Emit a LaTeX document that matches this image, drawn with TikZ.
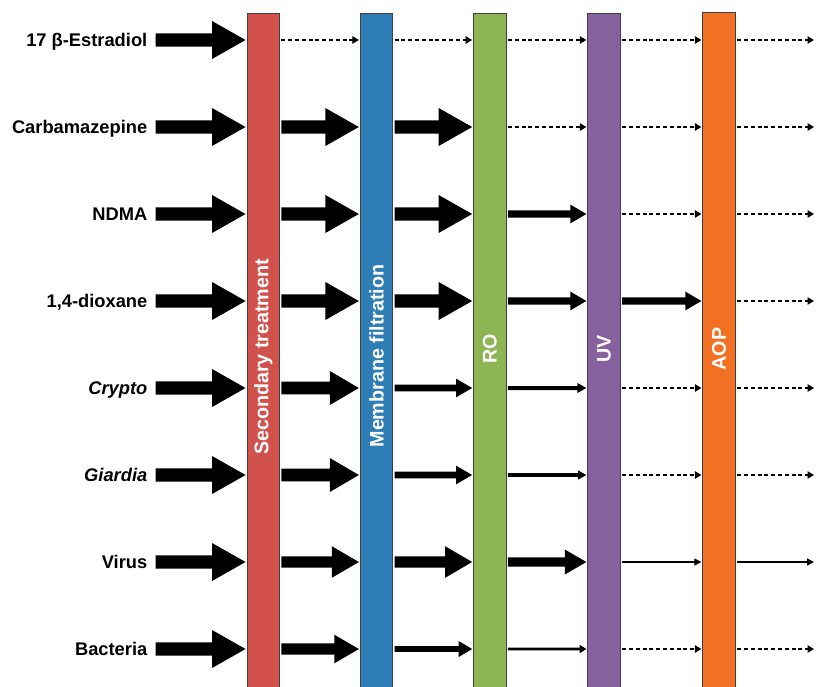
\documentclass[tikz,border=0pt]{standalone}
\usepackage{fontspec}
\setmainfont{Liberation Sans}
\usetikzlibrary{arrows.meta}
\definecolor{cSec}{RGB}{209,81,76}
\definecolor{cMem}{RGB}{46,125,182}
\definecolor{cRO}{RGB}{141,181,83}
\definecolor{cUV}{RGB}{135,97,157}
\definecolor{cAOP}{RGB}{242,112,34}
% #1 start anchor, #2 target node, #3 row coordinate, #4 shaft half, #5 head half, #6 head length
\newcommand\fatarr[6]{%
  \path (#1 |- #3) coordinate (fa-s) (#2.west |- #3) coordinate (fa-e);
  \fill[black] ([xshift=1.5pt,yshift=#4pt]fa-s)
    -- ([xshift={-(#6+1)*1pt},yshift=#4pt]fa-e)
    -- ([xshift={-(#6+1)*1pt},yshift=#5pt]fa-e)
    -- ([xshift=-1pt]fa-e)
    -- ([xshift={-(#6+1)*1pt},yshift=-#5pt]fa-e)
    -- ([xshift={-(#6+1)*1pt},yshift=-#4pt]fa-e)
    -- ([xshift=1.5pt,yshift=-#4pt]fa-s) -- cycle;}
\newcommand\bigarr[3]{\fatarr{#1}{#2}{#3}{6.7}{19}{33.5}}
\newcommand\medarr[3]{\fatarr{#1}{#2}{#3}{3.6}{9.4}{16}}
\begin{document}
\begin{tikzpicture}[x=1pt,y=-1pt,
  bar/.style={draw=black!75, line width=0.8pt, minimum width=32.5pt, inner sep=0pt, minimum height=690pt},
  barlab/.style={text=white, font=\fontsize{19.7}{22}\selectfont\bfseries, rotate=90, inner sep=0pt},
  lab/.style={font=\fontsize{18.3}{20}\selectfont\bfseries, anchor=base east, inner sep=0pt},
  dasharr/.style={line width=1.2pt, dash pattern=on 4pt off 2.8pt, -{Triangle[width=7.5pt,length=6.5pt]}, shorten <=1.5pt, shorten >=1pt},
  thinarr/.style={line width=1.4pt, -{Triangle[width=7pt,length=7pt]}, shorten <=1.5pt, shorten >=1pt}]
\useasboundingbox (0,0) rectangle (819,687);
\begin{scope}
\clip (0,0) rectangle (819,687);
\node[bar, fill=cSec] (sec) at (263.2,358) {};
\node[bar, fill=cMem] (mem) at (376.5,358) {};
\node[bar, fill=cRO]  (ro)  at (489.8,358) {};
\node[bar, fill=cUV]  (uv)  at (604,358) {};
\node[bar, fill=cAOP] (aop) at (719,357) {};
\end{scope}
\node[barlab] (tsec) at (263.2,357) {Secondary treatment};
\node[barlab] (tmem) at (376.5,356) {Membrane filtration};
\node[barlab] (tro)  at (489.8,349) {RO};
\node[barlab] (tuv)  at (604,349) {UV};
\node[barlab] (taop) at (719,349) {AOP};
% rows
\foreach \i/\y in {1/40,2/127,3/214,4/301,5/388,6/475,7/562,8/649}
  \coordinate (r\i) at (0,\y);
\coordinate (lstart) at (154.2,0);
\coordinate (rend) at (815,0);
% labels
\node[lab] (l1) at (147.5,46.6) {17 β-Estradiol};
\node[lab] (l2) at (147.5,133.6) {Carbamazepine};
\node[lab] (l3) at (147.5,220.6) {NDMA};
\node[lab] (l4) at (147.5,307.6) {1,4-dioxane};
\node[lab] (l5) at (147.5,394.6) {\itshape Crypto};
\node[lab] (l6) at (147.5,481.6) {\itshape Giardia};
\node[lab] (l7) at (147.5,568.6) {Virus};
\node[lab] (l8) at (147.5,655.6) {Bacteria};
% input arrows
\foreach \i in {1,...,8} {\bigarr{lstart}{sec}{r\i}}
% row 1
\draw[dasharr] (sec.east |- r1) -- (mem.west |- r1);
\draw[dasharr] (mem.east |- r1) -- (ro.west |- r1);
\draw[dasharr] (ro.east |- r1) -- (uv.west |- r1);
\draw[dasharr] (uv.east |- r1) -- (aop.west |- r1);
\draw[dasharr] (aop.east |- r1) -- (rend |- r1);
% row 2
\bigarr{sec.east}{mem}{r2}
\bigarr{mem.east}{ro}{r2}
\draw[dasharr] (ro.east |- r2) -- (uv.west |- r2);
\draw[dasharr] (uv.east |- r2) -- (aop.west |- r2);
\draw[dasharr] (aop.east |- r2) -- (rend |- r2);
% row 3
\bigarr{sec.east}{mem}{r3}
\bigarr{mem.east}{ro}{r3}
\medarr{ro.east}{uv}{r3}
\draw[dasharr] (uv.east |- r3) -- (aop.west |- r3);
\draw[dasharr] (aop.east |- r3) -- (rend |- r3);
% row 4
\bigarr{sec.east}{mem}{r4}
\bigarr{mem.east}{ro}{r4}
\medarr{ro.east}{uv}{r4}
\medarr{uv.east}{aop}{r4}
\draw[dasharr] (aop.east |- r4) -- (rend |- r4);
% row 5
\fatarr{sec.east}{mem}{r5}{6.4}{17}{29}
\fatarr{mem.east}{ro}{r5}{3.3}{9.3}{16}
\fatarr{ro.east}{uv}{r5}{2}{5}{9}
\draw[dasharr] (uv.east |- r5) -- (aop.west |- r5);
\draw[dasharr] (aop.east |- r5) -- (rend |- r5);
% row 6
\fatarr{sec.east}{mem}{r6}{6.4}{17}{29}
\fatarr{mem.east}{ro}{r6}{3.3}{9.3}{16}
\fatarr{ro.east}{uv}{r6}{1.8}{4.7}{8.3}
\draw[dasharr] (uv.east |- r6) -- (aop.west |- r6);
\draw[dasharr] (aop.east |- r6) -- (rend |- r6);
% row 7
\fatarr{sec.east}{mem}{r7}{5.6}{15.8}{27}
\fatarr{mem.east}{ro}{r7}{5.6}{15.8}{27}
\fatarr{ro.east}{uv}{r7}{4.7}{12.5}{21.5}
\draw[thinarr] (uv.east |- r7) -- (aop.west |- r7);
\draw[thinarr] (aop.east |- r7) -- (rend |- r7);
% row 8
\fatarr{sec.east}{mem}{r8}{5.6}{14.3}{24.5}
\fatarr{mem.east}{ro}{r8}{2.8}{8}{13.5}
\fatarr{ro.east}{uv}{r8}{1.3}{4.2}{6.7}
\draw[dasharr] (uv.east |- r8) -- (aop.west |- r8);
\draw[dasharr] (aop.east |- r8) -- (rend |- r8);
\end{tikzpicture}
\end{document}
